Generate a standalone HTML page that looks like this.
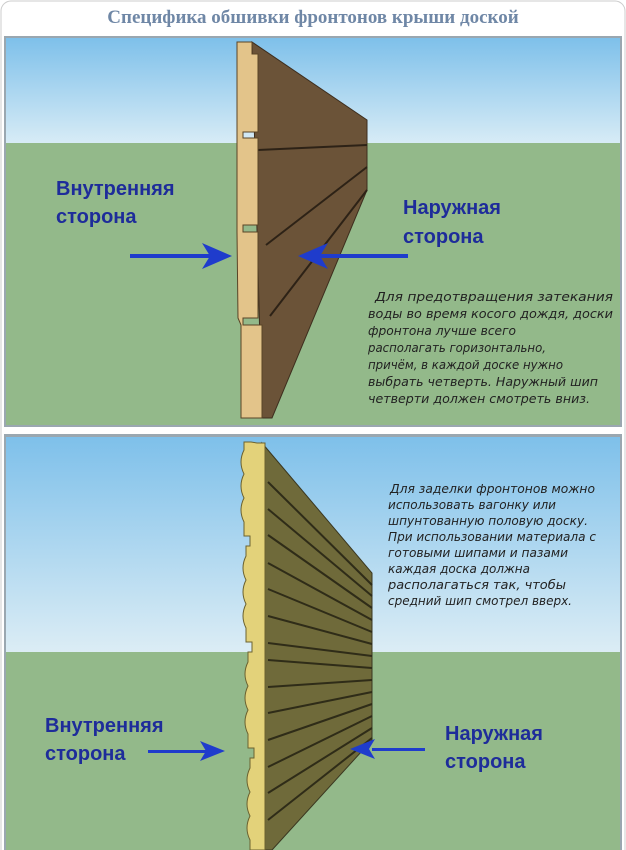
<!DOCTYPE html>
<html><head><meta charset="utf-8"><style>
body{margin:0;background:#fff;}
svg{display:block}
.b{font-family:"Liberation Sans","DejaVu Sans",sans-serif;font-weight:bold;font-size:20px;fill:#1e2c9a}
.i{font-family:"DejaVu Sans","Liberation Sans",sans-serif;font-style:italic;font-size:12px;fill:#222}
</style></head><body>
<svg width="626" height="850" viewBox="0 0 626 850" xmlns="http://www.w3.org/2000/svg">
<defs>
<linearGradient id="sky" x1="0" y1="0" x2="0" y2="1"><stop offset="0" stop-color="#7ec0ea"/><stop offset="1" stop-color="#d8ecf6"/></linearGradient>
<linearGradient id="sky2" x1="0" y1="0" x2="0" y2="1"><stop offset="0" stop-color="#7ec0ea"/><stop offset="1" stop-color="#dcedf5"/></linearGradient>
</defs>
<rect x="1" y="1" width="624" height="860" rx="10" fill="#fff" stroke="#ccc"/>
<text x="313" y="23" text-anchor="middle" font-family="Liberation Serif,serif" font-weight="bold" font-size="19" fill="#6f87a6">Специфика обшивки фронтонов крыши доской</text>
<!-- top panel -->
<rect x="4" y="36" width="618" height="391" fill="#9aa7b0"/>
<rect x="6" y="38" width="614" height="106" fill="url(#sky)"/>
<rect x="6" y="143" width="614" height="282" fill="#93b98a"/>
<polygon points="252,42 367,120 367,190 272,418 262,418" fill="#6b5338" stroke="#3d2e1e"/>
<g stroke="#2d2216" stroke-width="2"><line x1="258" y1="150" x2="367" y2="145"/><line x1="266" y1="245" x2="367" y2="167"/><line x1="270" y1="316" x2="367" y2="190"/></g>
<polygon points="237,42 252,42 252,54 258,54 258,132 243,132 243,138 258,138 258,225 243,225 243,232 258,232 258,318 243,318 243,325 262,325 262,418 241,418 241,325 238,318 237,232 237,138" fill="#e3c48a" stroke="#5a4426"/>
<g fill="#1f3ccc"><rect x="130" y="254" width="80" height="4"/><polygon points="232,256 202,243 210,256 202,269"/>
<rect x="320" y="254" width="88" height="4"/><polygon points="298,256 328,243 320,256 328,269"/></g>
<text class="b" x="56" y="195">Внутренняя</text><text class="b" x="56" y="223">сторона</text>
<text class="b" x="403" y="214">Наружная</text><text class="b" x="403" y="243">сторона</text>
<g class="i">
<text x="375" y="301" textLength="238" lengthAdjust="spacingAndGlyphs">Для предотвращения затекания</text>
<text x="368" y="318" textLength="245" lengthAdjust="spacingAndGlyphs">воды во время косого дождя, доски</text>
<text x="368" y="335" textLength="148" lengthAdjust="spacingAndGlyphs">фронтона лучше всего</text>
<text x="368" y="352" textLength="178" lengthAdjust="spacingAndGlyphs">располагать горизонтально,</text>
<text x="368" y="369" textLength="195" lengthAdjust="spacingAndGlyphs">причём, в каждой доске нужно</text>
<text x="368" y="386" textLength="230" lengthAdjust="spacingAndGlyphs">выбрать четверть. Наружный шип</text>
<text x="368" y="403" textLength="222" lengthAdjust="spacingAndGlyphs">четверти должен смотреть вниз.</text></g>
<!-- bottom panel -->
<rect x="4" y="434" width="618" height="418" fill="#9aa7b0"/>
<rect x="6" y="437" width="614" height="216" fill="url(#sky2)"/>
<rect x="6" y="652" width="614" height="200" fill="#93b98a"/>
<polygon points="262,443 372,573 372,740 272,850 262,850" fill="#6f6a3a" stroke="#3a3720"/>
<g stroke="#2f2c18" stroke-width="2" fill="none">
<line x1="268" y1="482" x2="372" y2="585"/><line x1="268" y1="509" x2="372" y2="596"/><line x1="268" y1="535" x2="372" y2="608"/><line x1="268" y1="563" x2="372" y2="620"/><line x1="268" y1="589" x2="372" y2="632"/><line x1="268" y1="616" x2="372" y2="644"/><line x1="268" y1="643" x2="372" y2="656"/><line x1="268" y1="660" x2="372" y2="668"/><line x1="268" y1="687" x2="372" y2="680"/><line x1="268" y1="713" x2="372" y2="692"/><line x1="268" y1="740" x2="372" y2="704"/><line x1="268" y1="767" x2="372" y2="716"/><line x1="268" y1="793" x2="372" y2="728"/><line x1="268" y1="820" x2="372" y2="738"/></g>
<path d="M257,443 h8 v407 h-15 v-10 q-6,-12 0,-24 q-6,-12 0,-24 q-6,-12 0,-24 v-10 h4 v-10 h-6 v-14 q-6,-12 0,-24 q-6,-12 0,-24 q-6,-12 0,-24 v-10 h4 v-10 h-6 v-14 q-6,-12 0,-24 q-6,-12 0,-24 q-6,-12 0,-24 v-10 h4 v-10 h-6 v-14 q-6,-12 0,-24 q-6,-12 0,-24 q-6,-12 0,-24 v-8 h7 z" fill="#e3d27a" stroke="#6b6230"/>
<g fill="#1f3ccc"><rect x="148" y="750" width="60" height="3"/><polygon points="225,751 200,741 206,751 200,761"/>
<rect x="372" y="748" width="53" height="3"/><polygon points="350,749 375,739 369,749 375,759"/></g>
<text class="b" x="45" y="732">Внутренняя</text><text class="b" x="45" y="760">сторона</text>
<text class="b" x="445" y="740">Наружная</text><text class="b" x="445" y="768">сторона</text>
<g class="i">
<text x="390" y="493" textLength="205" lengthAdjust="spacingAndGlyphs">Для заделки фронтонов можно</text>
<text x="388" y="509" textLength="168" lengthAdjust="spacingAndGlyphs">использовать вагонку или</text>
<text x="388" y="525" textLength="200" lengthAdjust="spacingAndGlyphs">шпунтованную половую доску.</text>
<text x="388" y="541" textLength="208" lengthAdjust="spacingAndGlyphs">При использовании материала с</text>
<text x="388" y="557" textLength="180" lengthAdjust="spacingAndGlyphs">готовыми шипами и пазами</text>
<text x="388" y="573" textLength="142" lengthAdjust="spacingAndGlyphs">каждая доска должна</text>
<text x="388" y="589" textLength="178" lengthAdjust="spacingAndGlyphs">располагаться так, чтобы</text>
<text x="388" y="605" textLength="184" lengthAdjust="spacingAndGlyphs">средний шип смотрел вверх.</text></g>
</svg>
</body></html>
